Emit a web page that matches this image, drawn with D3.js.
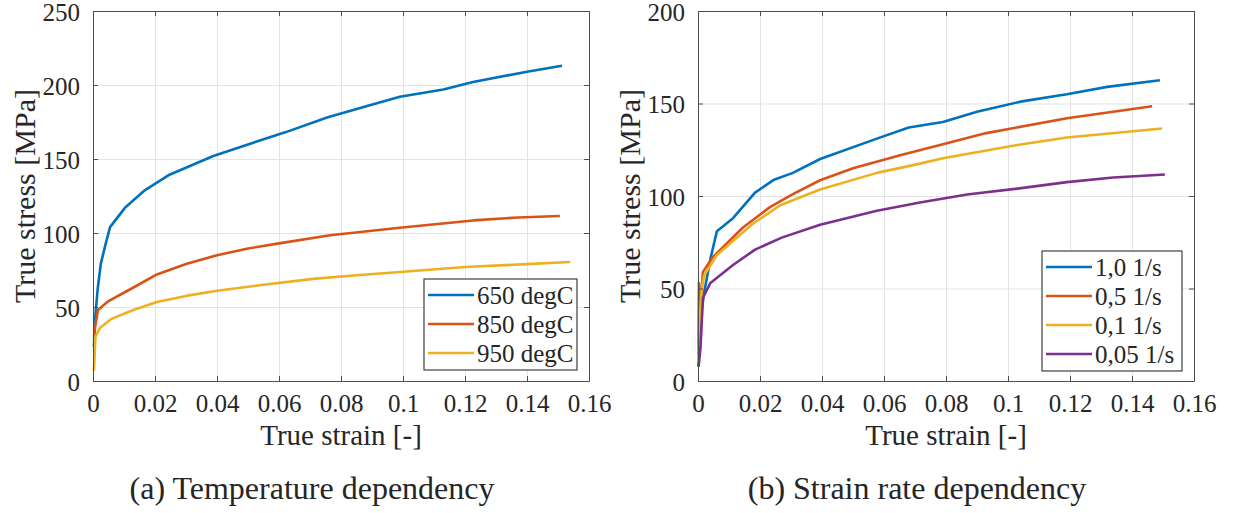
<!DOCTYPE html>
<html lang="en">
<head>
<meta charset="UTF-8">
<title>True stress vs true strain</title>
<script src="https://cdnjs.cloudflare.com/ajax/libs/d3/7.8.5/d3.min.js"></script>
<style>
  body { margin: 0; background: #fff; }
  svg text { font-family: "Liberation Serif", "DejaVu Serif", "Noto Serif", serif; fill: #262626; }
  .grid line { stroke: #e3e3e3; stroke-width: 1; }
  .grid path { display: none; }
  .axis path, .axis line { stroke: #4d4d4d; }
</style>
</head>
<body>
<div id="chart"></div>
<script>
// ---- data (strain [-], stress [MPa]) ----
const tempNames = ["650 degC", "850 degC", "950 degC"];
const temp650 = [[0.0003,23],[0.0006,40],[0.0015,62],[0.0025,79],[0.004,92],[0.0055,104],[0.0103,117],[0.0168,129],[0.0243,139],[0.0388,152],[0.0517,161],[0.062,168],[0.0755,178],[0.087,185],[0.099,192],[0.113,197],[0.1226,202],[0.140,209],[0.1513,213]];
const temp850 = [[0.0003,30],[0.0008,38],[0.0016,48],[0.005,54],[0.0129,63],[0.0206,72],[0.030,79],[0.040,85],[0.050,89.5],[0.060,93],[0.0765,98.5],[0.099,103.5],[0.1226,108.5],[0.137,110.5],[0.1506,111.5]];
const temp950 = [[0.0003,7],[0.0008,30],[0.0023,36],[0.006,42],[0.013,48],[0.0206,53.4],[0.030,57.5],[0.040,61],[0.055,65],[0.071,69],[0.085,71.5],[0.099,73.7],[0.12,77],[0.14,79],[0.1539,80.4]];

const rateNames = ["1,0 1/s", "0,5 1/s", "0,1 1/s", "0,05 1/s"];
const rate10 = [[0.0003,20],[0.001,36],[0.002,48],[0.004,66],[0.0061,81],[0.0113,88],[0.0184,101.8],[0.0243,108.6],[0.0306,112.5],[0.0394,120],[0.0577,131],[0.068,137],[0.079,140],[0.09,145.5],[0.104,151],[0.119,155],[0.132,159],[0.149,162.6]];
const rate05 = [[0.0001,8],[0.0003,53],[0.0008,40],[0.0016,59],[0.0048,67],[0.0145,83],[0.0232,94],[0.0306,101],[0.0394,108.5],[0.050,115],[0.0652,122],[0.079,128],[0.093,134],[0.119,142],[0.1465,148.5]];
const rate01 = [[0.0001,10],[0.0005,32],[0.0012,50],[0.002,57],[0.006,68],[0.0177,85],[0.0265,95],[0.0394,103.5],[0.0577,112.5],[0.0716,117.5],[0.079,120.4],[0.103,127.6],[0.119,131.6],[0.1497,136.5]];
const rate005 = [[0.0002,7.6],[0.0008,18],[0.0016,45],[0.004,53],[0.0113,62.7],[0.0184,71],[0.027,77.5],[0.0394,84.5],[0.0577,92],[0.0716,96.5],[0.0868,100.8],[0.103,104],[0.119,107.5],[0.134,110],[0.1506,111.6]];

const xTicks = [0, 0.02, 0.04, 0.06, 0.08, 0.1, 0.12, 0.14, 0.16];
const colors = ["#0072BD", "#D95319", "#EDB120", "#7E2F8E"];

const W = 1241, H = 513;
const svg = d3.select("#chart").append("svg").attr("width", W).attr("height", H);

function panel(opt) {
  const x = d3.scaleLinear().domain([0, 0.16]).range([opt.left, opt.left + 496]);
  const y = d3.scaleLinear().domain([0, opt.ymax]).range([381, 11]);
  const yTicks = d3.range(0, opt.ymax + 1, 50);
  const g = svg.append("g");

  // grid
  g.append("g").attr("class", "grid").attr("transform", "translate(0,381)")
    .call(d3.axisBottom(x).tickValues(xTicks).tickSize(-370).tickFormat(""));
  g.append("g").attr("class", "grid").attr("transform", `translate(${opt.left},0)`)
    .call(d3.axisLeft(y).tickValues(yTicks).tickSize(-496).tickFormat(""));

  // curves
  const line = d3.line().x(d => x(d[0])).y(d => y(d[1]));
  opt.series.forEach((s, i) => {
    g.append("path").datum(s).attr("fill", "none").attr("stroke", colors[i])
      .attr("stroke-width", 2.6).attr("stroke-linejoin", "round").attr("d", line);
  });

  // axes box with inward ticks
  const fmt = d => d === 0 ? "0" : String(+d.toFixed(2));
  const bottom = g.append("g").attr("class", "axis").attr("transform", "translate(0,381)")
    .call(d3.axisBottom(x).tickValues(xTicks).tickSizeInner(-5).tickSizeOuter(0).tickPadding(13).tickFormat(fmt));
  bottom.selectAll("text").style("font-size", "25px").attr("dy", "0.71em");
  g.append("g").attr("class", "axis").attr("transform", "translate(0,11)")
    .call(d3.axisTop(x).tickValues(xTicks).tickSizeInner(-5).tickSizeOuter(0).tickFormat(""));
  const left = g.append("g").attr("class", "axis").attr("transform", `translate(${opt.left},0)`)
    .call(d3.axisLeft(y).tickValues(yTicks).tickSizeInner(-5).tickSizeOuter(0).tickPadding(13));
  left.selectAll("text").style("font-size", "25px").attr("dy", "0.36em");
  g.append("g").attr("class", "axis").attr("transform", `translate(${opt.left + 496},0)`)
    .call(d3.axisRight(y).tickValues(yTicks).tickSizeInner(-5).tickSizeOuter(0).tickFormat(""));
  g.selectAll(".axis").attr("font-family", null);

  // labels
  g.append("text").attr("x", opt.left + 248).attr("y", 445).attr("text-anchor", "middle")
    .style("font-size", "29px").text("True strain [-]");
  g.append("text").attr("transform", `translate(${opt.left - 58},196) rotate(-90)`)
    .attr("text-anchor", "middle").style("font-size", "30px").text("True stress [MPa]");
  g.append("text").attr("x", opt.left + 219).attr("y", 499).attr("text-anchor", "middle")
    .style("font-size", "32px").text(opt.caption);

  // legend
  const lg = g.append("g").attr("transform", `translate(${opt.legend[0]},${opt.legend[1]})`);
  lg.append("rect").attr("width", opt.legend[2]).attr("height", opt.names.length * 29 + 4)
    .attr("fill", "#fff").attr("stroke", "#404040").attr("stroke-width", 1.2);
  opt.names.forEach((n, i) => {
    const yy = 16 + i * 29;
    lg.append("line").attr("x1", 4).attr("x2", 50).attr("y1", yy).attr("y2", yy)
      .attr("stroke", colors[i]).attr("stroke-width", 2.6);
    lg.append("text").attr("x", 53).attr("y", yy).attr("dy", "0.35em")
      .style("font-size", "25px").text(n);
  });
}

panel({ left: 93, ymax: 250, series: [temp650, temp850, temp950], names: tempNames,
  legend: [424, 279, 153], caption: "(a) Temperature dependency" });
panel({ left: 698, ymax: 200, series: [rate10, rate05, rate01, rate005], names: rateNames,
  legend: [1042, 251, 140], caption: "(b) Strain rate dependency" });
</script>
</body>
</html>
